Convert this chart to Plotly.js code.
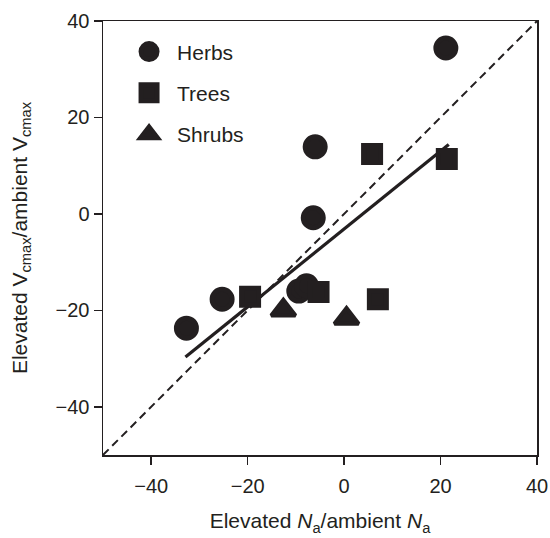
<!DOCTYPE html>
<html>
<head>
<meta charset="utf-8">
<script src="https://cdn.plot.ly/plotly-3.0.1.min.js"></script>
<style>html,body{margin:0;padding:0;background:#fff;}#chart{width:550px;height:538px;}</style>
</head>
<body>
<div id="chart"></div>
<script>
// Data
const herbsX = [21.1, -6.0, -6.4, -9.4, -7.8, -25.3, -32.7];
const herbsY = [34.4, 13.9, -0.8, -16.0, -14.9, -17.7, -23.7];
const treesX = [5.8, 21.3, -19.5, -5.3, 7.0];
const treesY = [12.4, 11.4, -17.2, -16.2, -17.7];
const shrubsX = [-12.6, 0.5];
const shrubsY = [-20.0, -21.7];
const fitX = [-32.9, 21.7];
const fitY = [-29.7, 14.4];
const oneToOneX = [-50, 40];
const oneToOneY = [-50, 40];
const xTicks = [-40, -20, 0, 20, 40];
const yTicks = [-40, -20, 0, 20, 40];

const ink = '#231f20';
const fam = 'Liberation Sans, Arial, sans-serif';
const font = {family: fam, size: 20, color: ink};
const titleFont = {family: fam, size: 21, color: ink};
const legendFont = {family: fam, size: 21, color: ink};

const traces = [
  {x: oneToOneX, y: oneToOneY, mode: 'lines', line: {color: ink, width: 2, dash: '8px,5px'}, showlegend: false, hoverinfo: 'skip'},
  {x: fitX, y: fitY, mode: 'lines', line: {color: ink, width: 3.2}, showlegend: false, hoverinfo: 'skip'},
  {x: herbsX, y: herbsY, mode: 'markers', name: 'Herbs', legendgroup: 'a',
   marker: {symbol: 'circle', size: 20, color: ink, line: {color: ink, width: 5}}},
  {x: treesX, y: treesY, mode: 'markers', name: 'Trees', legendgroup: 'b',
   marker: {symbol: 'square', size: 17, color: ink, line: {color: ink, width: 5}}},
  {x: shrubsX, y: shrubsY, mode: 'markers', name: 'Shrubs', legendgroup: 'c',
   marker: {symbol: 'triangle-up', size: 21, color: ink, line: {color: ink, width: 4}}}
];

const layout = {
  width: 550, height: 538,
  margin: {l: 103, r: 13, t: 21, b: 83},
  paper_bgcolor: '#fff', plot_bgcolor: '#fff',
  font: font,
  showlegend: true,
  legend: {x: 0.0416, y: 0.976, xanchor: 'left', yanchor: 'top', font: legendFont, bgcolor: 'rgba(0,0,0,0)',
           traceorder: 'grouped', tracegroupgap: 11, itemsizing: 'trace', itemwidth: 46},
  xaxis: {
    range: [-50, 40], tickvals: xTicks, ticktext: xTicks.map(v => v < 0 ? '\u2212' + Math.abs(v) : String(v)),
    showgrid: false, zeroline: false, showline: true, linecolor: ink, linewidth: 1.5, mirror: true,
    ticks: 'outside', ticklen: 8, tickwidth: 1.5, tickcolor: ink, tickfont: font, ticklabelstandoff: 4,
    title: {text: 'Elevated <i>N</i><sub>a</sub>/ambient <i>N</i><sub>a</sub>', font: titleFont, standoff: 18}
  },
  yaxis: {
    range: [-50, 40], tickvals: yTicks, ticktext: yTicks.map(v => v < 0 ? '\u2212' + Math.abs(v) : String(v)),
    showgrid: false, zeroline: false, showline: true, linecolor: ink, linewidth: 1.5, mirror: true,
    ticks: 'outside', ticklen: 8, tickwidth: 1.5, tickcolor: ink, tickfont: font,
    title: {text: 'Elevated V<sub>cmax</sub>/ambient V<sub>cmax</sub>', font: titleFont, standoff: 22}
  }
};

Plotly.newPlot('chart', traces, layout, {displayModeBar: false, staticPlot: true});
</script>
</body>
</html>
